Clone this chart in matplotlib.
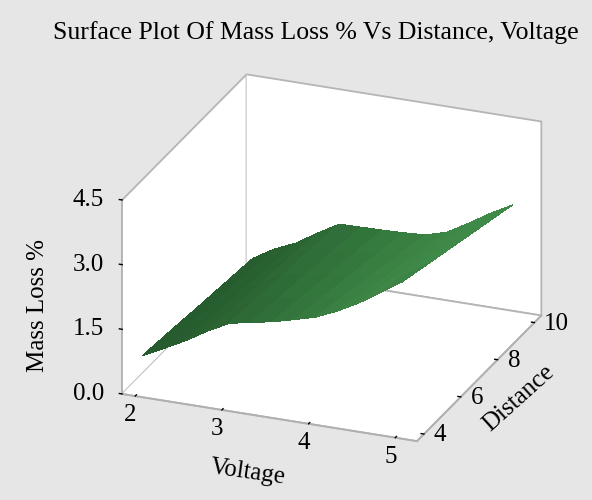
import numpy as np
import matplotlib
matplotlib.use("Agg")
import matplotlib.pyplot as plt
from matplotlib.colors import LinearSegmentedColormap
from matplotlib.transforms import IdentityTransform
from mpl_toolkits.mplot3d import proj3d

plt.rcParams['font.family'] = ['Liberation Serif', 'DejaVu Serif']

voltage = [2, 2.25, 2.5, 2.75, 3, 3.25, 3.5, 3.75, 4, 4.25, 4.5, 4.75, 5]
distance = [4, 5.5, 7, 8.5, 10]
mass_loss = [
    [0.77, 0.69, 0.60, 0.52, 0.44],
    [1.02, 0.95, 0.88, 0.81, 0.74],
    [1.28, 1.20, 1.12, 1.04, 0.96],
    [1.58, 1.50, 1.42, 1.35, 1.27],
    [1.84, 1.77, 1.70, 1.63, 1.56],
    [1.95, 1.85, 1.76, 1.66, 1.57],
    [2.04, 1.92, 1.81, 1.70, 1.58],
    [2.17, 2.03, 1.88, 1.74, 1.60],
    [2.31, 2.14, 1.97, 1.80, 1.63],
    [2.53, 2.34, 2.15, 1.97, 1.78],
    [2.80, 2.62, 2.43, 2.25, 2.07],
    [3.12, 2.93, 2.75, 2.56, 2.38],
    [3.45, 3.25, 3.05, 2.85, 2.65],
]
v_ticks = [2, 3, 4, 5]
d_ticks = [4, 6, 8, 10]
z_ticks = [0.0, 1.5, 3.0, 4.5]
z_labels = ['0.0', '1.5', '3.0', '4.5']
title = 'Surface Plot Of Mass Loss % Vs Distance, Voltage'

BG = '#e6e6e6'
fig = plt.figure(figsize=(5.92, 5.0), dpi=100, facecolor=BG)
ax = fig.add_axes([29/592, -14.5/500, 1.0, 1.0], projection='3d', facecolor=BG)
ax.patch.set_alpha(0)

V, D = np.meshgrid(voltage, distance, indexing='ij')
Z = np.array(mass_loss)
cmap = LinearSegmentedColormap.from_list('g', ['#275c2e', '#2c6634', '#32743b', '#3a8243', '#408a49'])
Vc = V[:-1, :-1]; Dc = D[:-1, :-1]
shade = (Vc - 2) / 2.6 + (Dc - 7) * 0.02
shade = np.where(Vc > 4.5, shade - (5.5 - Dc) * 0.12, shade)
colors = cmap(np.clip(shade, 0, 1))
ax.plot_surface(V, D, Z, facecolors=colors, rstride=1, cstride=1, linewidth=0.3,
                edgecolor='none', antialiased=False, shade=False)

ax.set_xlim(1.85, 5.25); ax.set_ylim(3.62, 10.38); ax.set_zlim(0, 4.5)
ax.set_xticks(v_ticks); ax.set_yticks(d_ticks); ax.set_zticks(z_ticks)
ax.set_xticklabels([]); ax.set_yticklabels([]); ax.set_zticklabels([])
ax.view_init(elev=23.7, azim=-68.3)
ax.set_proj_type('ortho')
ax.set_box_aspect((316, 335, 211), zoom=0.9875)
for a in (ax.xaxis, ax.yaxis, ax.zaxis):
    a.set_pane_color('white'); a.pane.set_edgecolor('#b5b5b5'); a.pane.set_linewidth(1.3)
    a.line.set_color('#b0b0b0'); a.line.set_linewidth(1.3)
    a._axinfo['grid']['linewidth'] = 0
    a._axinfo['tick']['color'] = '#a0a0a0'
    a._axinfo['tick']['inward_factor'] = 0.0
    a._axinfo['tick']['outward_factor'] = 0.12
    a._axinfo['tick']['linewidth'] = {True: 1.0, False: 0.5}
ax.zaxis._axinfo['juggled'] = (1, 2, 0)
ax.grid(False)

fig.canvas.draw()
def place(xd, yd, zd, text, dx, dy, ha):
    x2, y2, _ = proj3d.proj_transform(xd, yd, zd, ax.get_proj())
    px, py = ax.transData.transform((x2, y2))
    fig.text(px + dx, py - dy, text, fontsize=18, ha=ha, va='center', transform=IdentityTransform())

for v in v_ticks:
    place(v, 3.62, 0, str(v), -5, 19, 'center')
for d in d_ticks:
    place(5.25, d, 0, str(d), 10, 1, 'left')
for z, lab in zip(z_ticks, z_labels):
    place(1.85, 3.62, z, lab, -18, 0, 'right')

fig.text(248/592, 1-472/500, 'Voltage', fontsize=18, rotation=-8, ha='center', va='center')
fig.text(519/592, 1-398/500, 'Distance', fontsize=18, rotation=42, ha='center', va='center')
fig.text(38/592, 1-305/500, 'Mass Loss %', fontsize=18, rotation=90, ha='center', va='center')
fig.text(316/592, 1-33/500, title, fontsize=18.5, ha='center', va='center')
fig.savefig('out.png', dpi=100, facecolor=fig.get_facecolor())
